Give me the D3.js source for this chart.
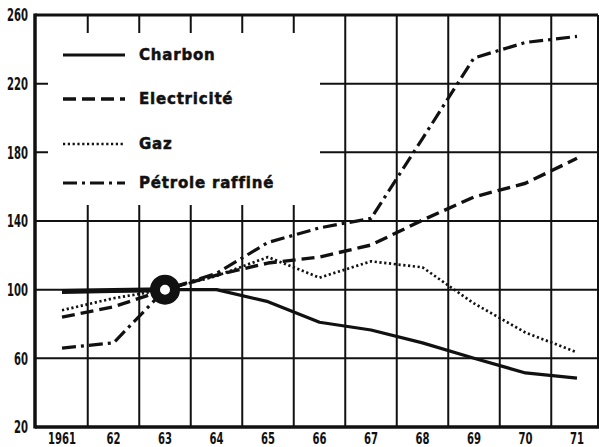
<!DOCTYPE html>
<html>
<head>
<meta charset="utf-8">
<script src="https://cdn.jsdelivr.net/npm/d3@7"></script>
<style>
  body { margin: 0; background: #fff; }
  svg { display: block; }
</style>
</head>
<body>
<div id="chart"></div>
<script>
// --- données ---
const annees = [1961, 1962, 1963, 1964, 1965, 1966, 1967, 1968, 1969, 1970, 1971];
const anneeLabels = ["1961", "62", "63", "64", "65", "66", "67", "68", "69", "70", "71"];
const charbon     = [99, 99.5, 100, 100, 93, 81, 76.5, 69, 60, 51.5, 48.5];
const electricite = [84, 90, 100, 108.5, 115.5, 119, 126, 140.5, 154, 162, 176.5];
const gaz         = [88, 95, 100, 108, 119, 107, 116.5, 113, 92, 75, 63.5];
const petrole     = [66, 69, 100, 109.5, 127.5, 136, 141.5, 188, 235, 244, 247.5];
const yTicks = [260, 220, 180, 140, 100, 60, 20];

const series = [
  { nom: "Charbon",         valeurs: charbon,     dash: null,       w: 3.2 },
  { nom: "Electricité",     valeurs: electricite, dash: "13,6",     w: 3.4 },
  { nom: "Gaz",             valeurs: gaz,         dash: "2.2,2.6",  w: 2.7 },
  { nom: "Pétrole raffiné", valeurs: petrole,     dash: "14,5,3,5", w: 3.2 }
];

const W = 599, H = 447;
const L = 35, R = 598, T = 15, B = 427;

const svg = d3.select("#chart").append("svg").attr("width", W).attr("height", H);

const x = d3.scaleLinear().domain([1961, 1971]).range([62, 577]);
const y = d3.scaleLinear().domain([20, 260]).range([B, T]);

// grille
const grille = svg.append("g").attr("stroke", "#111").attr("stroke-width", 2);
grille.selectAll(".v").data(annees.slice(0, -1)).join("line")
  .attr("x1", d => x(d + 0.5)).attr("x2", d => x(d + 0.5))
  .attr("y1", T).attr("y2", B);
grille.selectAll(".h").data(yTicks.filter(d => d > 20 && d < 260)).join("line")
  .attr("x1", L).attr("x2", R)
  .attr("y1", d => y(d)).attr("y2", d => y(d));

// cadre blanc de la légende
svg.append("rect").attr("x", 48).attr("y", 33).attr("width", 272).attr("height", 172).attr("fill", "#fff");

// cadre
svg.append("line").attr("x1", R).attr("x2", R).attr("y1", T).attr("y2", B).attr("stroke", "#111").attr("stroke-width", 2);
svg.append("line").attr("x1", L).attr("x2", R).attr("y1", T).attr("y2", T).attr("stroke", "#111").attr("stroke-width", 3);
svg.append("line").attr("x1", L).attr("x2", R + 1).attr("y1", B).attr("y2", B).attr("stroke", "#111").attr("stroke-width", 3.5);
svg.append("line").attr("x1", L).attr("x2", L).attr("y1", T - 1.5).attr("y2", B + 1.5).attr("stroke", "#111").attr("stroke-width", 3.5);

// axes texte (chiffres étroits et gras)
const fontAxe = "'DejaVu Sans', sans-serif";
svg.append("g").selectAll("text").data(yTicks).join("text")
  .attr("x", 28).attr("y", d => y(d)).attr("dy", "0.36em")
  .attr("text-anchor", "end")
  .attr("textLength", d => String(d).length * 7).attr("lengthAdjust", "spacingAndGlyphs")
  .style("font-family", fontAxe).style("font-weight", "bold").style("font-size", "18px")
  .attr("fill", "#111").text(d => d);
svg.append("g").selectAll("text").data(annees).join("text")
  .attr("x", d => x(d)).attr("y", 438).attr("dy", "0.36em")
  .attr("text-anchor", "middle")
  .attr("textLength", (d, i) => anneeLabels[i].length * 7).attr("lengthAdjust", "spacingAndGlyphs")
  .style("font-family", fontAxe).style("font-weight", "bold").style("font-size", "16px")
  .attr("fill", "#111").text((d, i) => anneeLabels[i]);

// courbes
const ligne = d3.line().x((d, i) => x(annees[i])).y(d => y(d));
svg.append("g").selectAll("path").data(series).join("path")
  .attr("d", d => ligne(d.valeurs))
  .attr("fill", "none").attr("stroke", "#111")
  .attr("stroke-width", d => d.w)
  .attr("stroke-dasharray", d => d.dash)
  .attr("stroke-linejoin", "round");

// tronçon épais 1961-63
svg.append("path")
  .attr("d", ligne(charbon.slice(0, 3)))
  .attr("fill", "none").attr("stroke", "#111").attr("stroke-width", 5);

// anneau en 1963
svg.append("circle")
  .attr("cx", x(1963)).attr("cy", y(100)).attr("r", 10)
  .attr("fill", "#fff").attr("stroke", "#111").attr("stroke-width", 10);

// légende
const leg = svg.append("g");
const legY = [55, 99, 144, 183];
series.forEach((s, i) => {
  leg.append("line")
    .attr("x1", 63).attr("x2", 125).attr("y1", legY[i]).attr("y2", legY[i])
    .attr("stroke", "#111").attr("stroke-width", s.w)
    .attr("stroke-dasharray", s.dash);
  leg.append("text")
    .attr("x", 139).attr("y", legY[i]).attr("dy", "0.36em")
    .style("font-family", "'DejaVu Sans', sans-serif").style("font-weight", "bold")
    .style("font-size", "15px").style("letter-spacing", "0.8px")
    .style("stroke", "#111").style("stroke-width", "0.5px")
    .attr("fill", "#111").text(s.nom);
});
</script>
</body>
</html>
